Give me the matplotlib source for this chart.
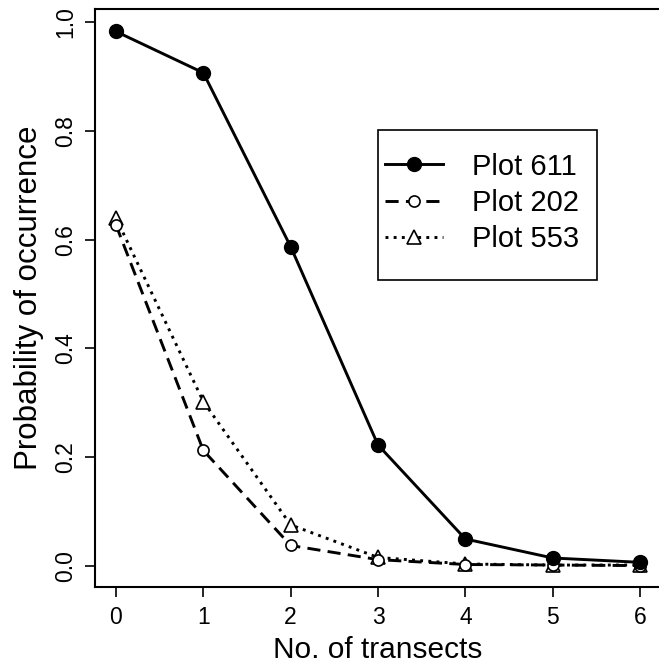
import matplotlib
matplotlib.use("Agg")
import matplotlib.pyplot as plt
from matplotlib.patches import Rectangle

plt.rcParams['font.family'] = ['Liberation Sans', 'DejaVu Sans']

transects = [0, 1, 2, 3, 4, 5, 6]
plot611 = [0.983, 0.907, 0.587, 0.222, 0.049, 0.014, 0.006]
plot202 = [0.627, 0.212, 0.037, 0.011, 0.002, 0.001, 0.000]
plot553 = [0.640, 0.302, 0.075, 0.015, 0.003, 0.001, 0.001]
labels = ["Plot 611", "Plot 202", "Plot 553"]
xticks = [0, 1, 2, 3, 4, 5, 6]
yticks = [0.0, 0.2, 0.4, 0.6, 0.8, 1.0]

W, H = 659, 663
fig = plt.figure(figsize=(W / 100, H / 100), dpi=100)
L, R, T, B = 95, 661, 9, 587
ax = fig.add_axes([L / W, (H - B) / H, (R - L) / W, (B - T) / H])

lw = 2.1
l1, = ax.plot(transects, plot611, color='black', lw=lw, marker='o', ms=10,
              mfc='black', mec='black', zorder=5, label=labels[0])
l2, = ax.plot(transects, plot202, color='black', lw=lw, marker='o', ms=8,
              mfc='white', mec='black', mew=1.2, dashes=(4.5, 2.5), zorder=4,
              label=labels[1])
l3, = ax.plot(transects, plot553, color='black', lw=lw, marker='^', ms=10,
              mfc='white', mec='black', mew=1.2, dashes=(1.0, 1.8), zorder=3,
              label=labels[2])

ax.set_xlim(-0.24, 6.24)
ax.set_ylim(-0.0394, 1.0244)
ax.set_xticks(xticks)
ax.set_xticklabels([str(t) for t in xticks])
ax.set_yticks(yticks)
ax.set_yticklabels([f"{t:.1f}" for t in yticks], rotation=90, va='center')

ax.tick_params(axis='both', direction='out', length=7, width=1.2, labelsize=16.5, colors='black')
ax.tick_params(axis='x', pad=7)
ax.tick_params(axis='y', pad=6)
for s in ax.spines.values():
    s.set_linewidth(1.5)

ax.set_xlabel("No. of transects", fontsize=21.5, labelpad=5)
ax.set_ylabel("Probability of occurrence", fontsize=22.5, labelpad=7)

leg = ax.legend(handles=[l1, l2, l3], loc='center left',
                bbox_to_anchor=((385 - L) / (R - L), (B - 203) / (B - T)),
                fontsize=21, frameon=False,
                handlelength=2.0, handletextpad=1.0, borderpad=0, labelspacing=0.29,
                borderaxespad=0, numpoints=1)
frame = Rectangle(((378 - L) / (R - L), (B - 280) / (B - T)),
                  (597 - 378) / (R - L), (280 - 130) / (B - T),
                  transform=ax.transAxes, fill=True, facecolor='white',
                  edgecolor='black', linewidth=1.2, zorder=6)
ax.add_patch(frame)
leg.set_zorder(7)

fig.savefig("out.png", dpi=100)
